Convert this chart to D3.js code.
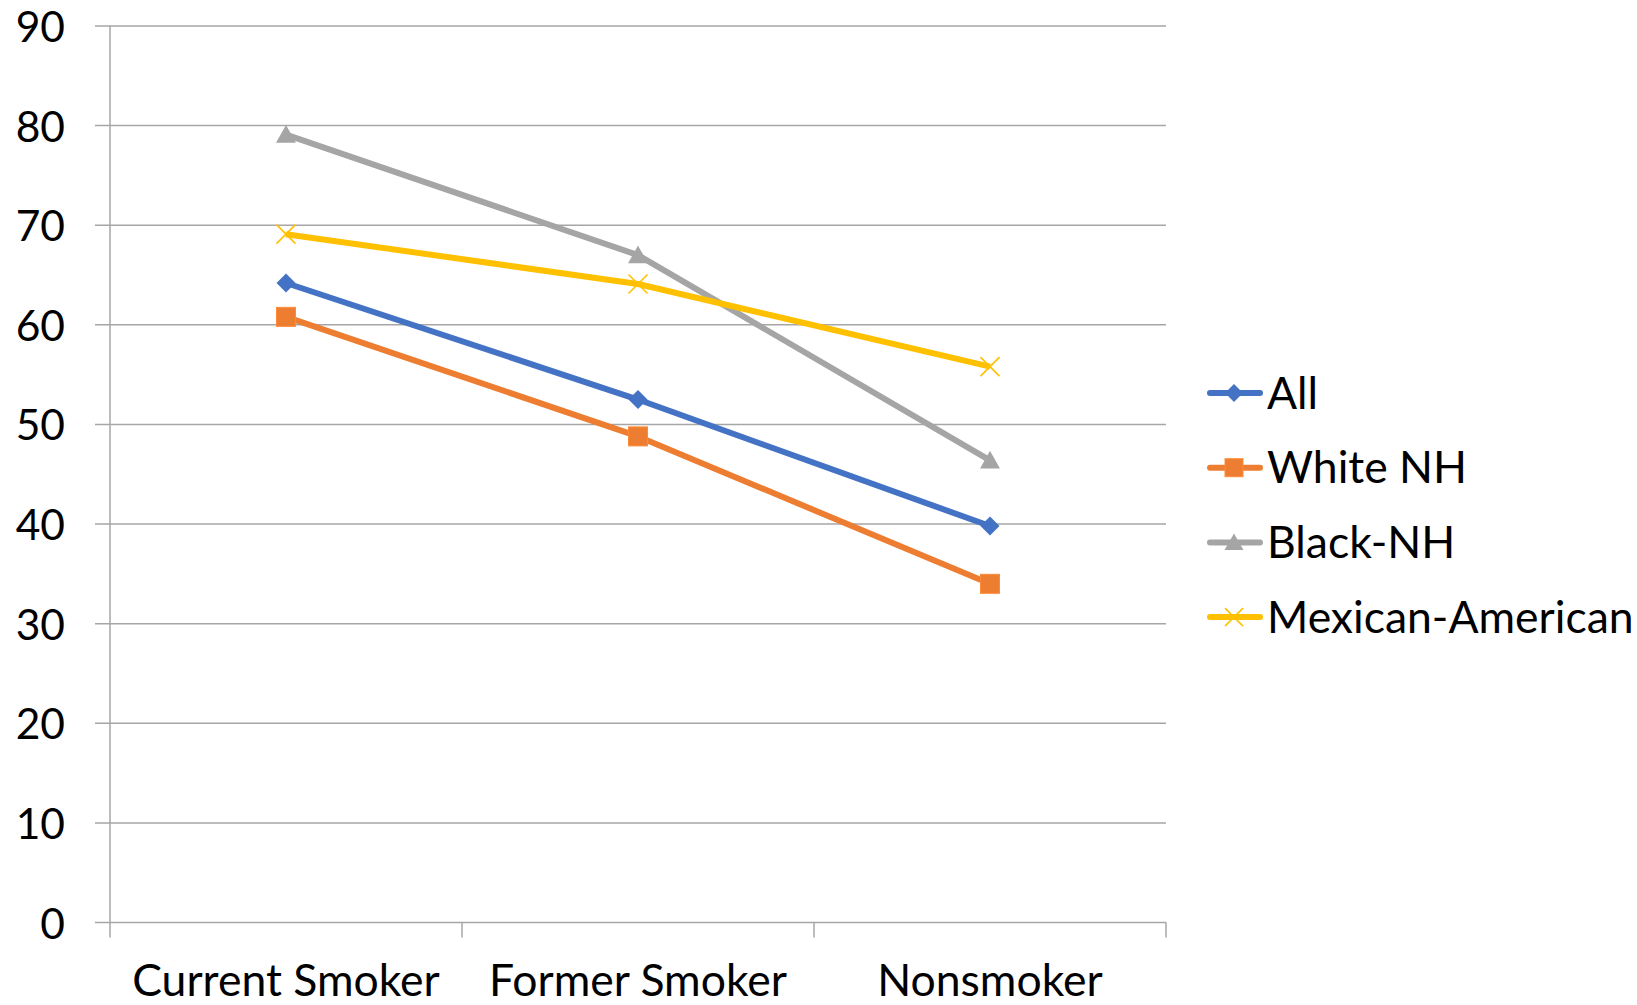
<!DOCTYPE html>
<html>
<head>
<meta charset="utf-8">
<script src="https://cdn.jsdelivr.net/npm/d3@7"></script>
<style>
  html, body { margin: 0; padding: 0; background: #fff; }
  svg { display: block; }
  text { font-family: Lato, "Open Sans", sans-serif; fill: #000; }
</style>
</head>
<body>
<svg id="chart" width="1637" height="1005"></svg>
<script>
// Smoking status categories along the x axis
const categories = ["Current Smoker", "Former Smoker", "Nonsmoker"];

// One value per category for each group
const seriesNames = ["All", "White NH", "Black-NH", "Mexican-American"];
const allValues      = [64.2, 52.5, 39.8];
const whiteValues    = [60.8, 48.8, 34.0];
const blackValues    = [79.1, 67.0, 46.4];
const mexicanValues  = [69.1, 64.1, 55.8];

const yTicks = [0, 10, 20, 30, 40, 50, 60, 70, 80, 90];

const seriesColors = ["#4472C4", "#ED7D31", "#A5A5A5", "#FFC000"];
const seriesMarkers = ["diamond", "square", "triangle", "cross"];

const series = [allValues, whiteValues, blackValues, mexicanValues].map((values, i) => ({
  name: seriesNames[i],
  color: seriesColors[i],
  marker: seriesMarkers[i],
  values: values.map((v, j) => ({ cat: categories[j], v }))
}));

const svg = d3.select("#chart");
const plot = { left: 110, right: 1166, top: 26, bottom: 922.5 };
const fontSize = 44.5;
const tickFontSize = 42.5;

const x = d3.scaleBand().domain(categories).range([plot.left, plot.right]).paddingInner(0).paddingOuter(0);
const y = d3.scaleLinear().domain([0, 90]).range([plot.bottom, plot.top]);

// Horizontal gridlines, extended left as tick marks
svg.append("g")
  .selectAll("line")
  .data(yTicks)
  .join("line")
  .attr("x1", plot.left - 15)
  .attr("x2", plot.right)
  .attr("y1", d => y(d))
  .attr("y2", d => y(d))
  .attr("stroke", "#a6a6a6")
  .attr("stroke-width", 1.5);

// Vertical axis line
svg.append("line")
  .attr("x1", plot.left).attr("x2", plot.left)
  .attr("y1", plot.top).attr("y2", plot.bottom + 15)
  .attr("stroke", "#a6a6a6").attr("stroke-width", 1.5);

// Category boundary ticks below the baseline
const boundaries = categories.map(c => x(c)).concat([plot.right]).slice(1);
svg.append("g")
  .selectAll("line")
  .data(boundaries)
  .join("line")
  .attr("x1", d => d).attr("x2", d => d)
  .attr("y1", plot.bottom).attr("y2", plot.bottom + 15)
  .attr("stroke", "#a6a6a6").attr("stroke-width", 1.5);

// Y tick labels
svg.append("g")
  .selectAll("text")
  .data(yTicks)
  .join("text")
  .attr("x", 65)
  .attr("y", d => y(d) + 16)
  .attr("text-anchor", "end")
  .attr("font-size", tickFontSize)
  .text(d => d);

// Category labels
svg.append("g")
  .selectAll("text")
  .data(categories)
  .join("text")
  .attr("x", d => x(d) + x.bandwidth() / 2)
  .attr("y", 996)
  .attr("text-anchor", "middle")
  .attr("font-size", fontSize)
  .text(d => d);

// Marker shapes
function drawMarker(g, type, color, size) {
  const s = size / 2;
  if (type === "diamond") {
    g.append("path").attr("d", `M0,${-s}L${s},0L0,${s}L${-s},0Z`).attr("fill", color);
  } else if (type === "square") {
    g.append("rect").attr("x", -s).attr("y", -s).attr("width", size).attr("height", size)
      .attr("fill", color).attr("stroke", d3.color(color).brighter(0.3)).attr("stroke-width", 1);
  } else if (type === "triangle") {
    g.append("path").attr("d", `M0,${-s}L${s * 1.05},${s * 0.85}L${-s * 1.05},${s * 0.85}Z`).attr("fill", color);
  } else if (type === "cross") {
    g.append("path").attr("d", `M${-s},${-s}L${s},${s}M${-s},${s}L${s},${-s}`)
      .attr("stroke", color).attr("stroke-width", 1.6).attr("fill", "none");
  }
}

const line = d3.line()
  .x(d => x(d.cat) + x.bandwidth() / 2)
  .y(d => y(d.v));

const lines = svg.append("g");
series.forEach(s => {
  lines.append("path")
    .datum(s.values)
    .attr("d", line)
    .attr("fill", "none")
    .attr("stroke", s.color)
    .attr("stroke-width", 6)
    .attr("stroke-linejoin", "round");
  s.values.forEach(p => {
    const g = lines.append("g")
      .attr("transform", `translate(${x(p.cat) + x.bandwidth() / 2},${y(p.v)})`);
    drawMarker(g, s.marker, s.color, 19);
  });
});

// Legend
const legend = svg.append("g");
series.forEach((s, i) => {
  const cy = 393 + i * 74.7;
  legend.append("line")
    .attr("x1", 1210).attr("x2", 1260)
    .attr("y1", cy).attr("y2", cy)
    .attr("stroke", s.color).attr("stroke-width", 6).attr("stroke-linecap", "round");
  const g = legend.append("g").attr("transform", `translate(1234,${cy})`);
  drawMarker(g, s.marker, s.color, 18);
  legend.append("text")
    .attr("x", 1267).attr("y", cy)
    .attr("dy", "0.35em")
    .attr("font-size", fontSize)
    .text(s.name);
});
</script>
</body>
</html>
